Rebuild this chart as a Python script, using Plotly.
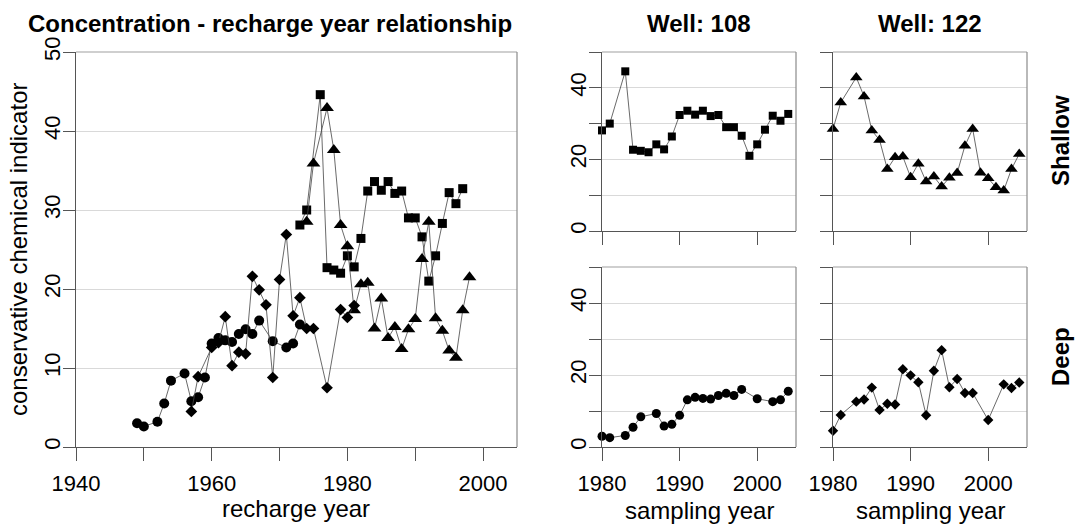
import plotly.graph_objects as go

# sampling years and concentrations
years_108_shallow = [1980, 1981, 1983, 1984, 1985, 1986, 1987, 1988, 1989, 1990, 1991, 1992,
                     1993, 1994, 1995, 1996, 1997, 1998, 1999, 2000, 2001, 2002, 2003, 2004]
conc_108_shallow = [28.1, 30.0, 44.6, 22.7, 22.4, 22.0, 24.2, 22.8, 26.4, 32.4, 33.6, 32.5,
                    33.6, 32.1, 32.4, 29.0, 29.0, 26.6, 21.0, 24.2, 28.3, 32.2, 30.8, 32.7]

years_122_shallow = [1980, 1981, 1983, 1984, 1985, 1986, 1987, 1988, 1989, 1990, 1991, 1992,
                     1993, 1994, 1995, 1996, 1997, 1998, 1999, 2000, 2001, 2002, 2003, 2004]
conc_122_shallow = [28.5, 35.9, 42.9, 37.6, 28.1, 25.4, 17.3, 20.6, 20.8, 15.0, 18.8, 13.8,
                    15.2, 12.4, 14.9, 16.2, 23.8, 28.5, 16.3, 14.7, 12.2, 11.3, 17.3, 21.5]

years_108_deep = [1980, 1981, 1983, 1984, 1985, 1987, 1988, 1989, 1990, 1991, 1992,
                  1993, 1994, 1995, 1996, 1997, 1998, 2000, 2002, 2003, 2004]
conc_108_deep = [3.0, 2.6, 3.2, 5.5, 8.4, 9.3, 5.8, 6.3, 8.8, 13.1, 13.8,
                 13.5, 13.3, 14.3, 14.9, 14.3, 16.0, 13.4, 12.6, 13.1, 15.5]

years_122_deep = [1980, 1981, 1983, 1984, 1985, 1986, 1987, 1988, 1989, 1990, 1991,
                  1992, 1993, 1994, 1995, 1996, 1997, 1998, 2000, 2002, 2003, 2004]
conc_122_deep = [4.5, 8.9, 12.6, 13.2, 16.5, 10.3, 12.0, 11.8, 21.6, 19.9, 18.0,
                 8.8, 21.2, 26.9, 16.6, 18.9, 15.0, 15.0, 7.5, 17.4, 16.4, 17.9]

# apparent groundwater age per well (years), recharge year = sampling year - age
age_108_shallow = 7
age_122_shallow = 6
age_108_deep = 31
age_122_deep = 23

W, H = 1078, 527
FONT = 'Liberation Sans, Arial, sans-serif'
AXIS_DARK = '#555555'
GRID = '#d9d9d9'
LINE = dict(color='#444444', width=0.8)


def px_x(p):
    return p / W


def px_y(p):
    return 1 - p / H


series = [
    ('108 shallow', years_108_shallow, conc_108_shallow, age_108_shallow, 'square', 9, 8),
    ('122 shallow', years_122_shallow, conc_122_shallow, age_122_shallow, 'triangle-up', 12, 11),
    ('108 deep', years_108_deep, conc_108_deep, age_108_deep, 'circle', 10, 9),
    ('122 deep', years_122_deep, conc_122_deep, age_122_deep, 'diamond', 9, 8),
]

fig = go.Figure()

# left panel: concentration vs recharge year
for name, yrs, conc, age, sym, size_big, size_small in series:
    fig.add_trace(go.Scatter(
        x=[y - age for y in yrs], y=conc, mode='lines+markers', name=name,
        line=LINE, marker=dict(symbol=sym, size=size_big, color='black', line=dict(width=0)),
        xaxis='x', yaxis='y', showlegend=False
    ))

# small panels: concentration vs sampling year
panel_axes = {'108 shallow': ('x2', 'y2'), '122 shallow': ('x3', 'y3'),
              '108 deep': ('x4', 'y4'), '122 deep': ('x5', 'y5')}
for name, yrs, conc, age, sym, size_big, size_small in series:
    xa, ya = panel_axes[name]
    fig.add_trace(go.Scatter(
        x=yrs, y=conc, mode='lines+markers', name=name,
        line=LINE, marker=dict(symbol=sym, size=size_small, color='black', line=dict(width=0)),
        xaxis=xa, yaxis=ya, showlegend=False, cliponaxis=False
    ))


def xaxis_cfg(domain, rng, vals, text, anchor):
    return dict(domain=domain, range=rng, anchor=anchor, tickvals=vals, ticktext=text,
                ticks='outside', ticklen=13, tickcolor=AXIS_DARK, showline=True,
                linecolor=AXIS_DARK, linewidth=1, showgrid=False, zeroline=False,
                automargin=False,
                tickfont=dict(size=22, color='black', family=FONT), ticklabelstandoff=4)


def yaxis_cfg(domain, vals, text, anchor):
    return dict(domain=domain, range=[0, 50], anchor=anchor, tickvals=vals, ticktext=text,
                ticks='outside', ticklen=12, tickcolor=AXIS_DARK, showline=True,
                linecolor=AXIS_DARK, linewidth=1, showgrid=True, gridcolor=GRID,
                zeroline=False, tickangle=-90, automargin=False,
                tickfont=dict(size=22, color='black', family=FONT), ticklabelstandoff=-6)


left_dom_x = [px_x(76), px_x(517)]
col1_x = [px_x(602), px_x(796)]
col2_x = [px_x(833), px_x(1027)]
full_y = [px_y(447), px_y(52)]
row1_y = [px_y(231), px_y(52)]
row2_y = [px_y(447), px_y(267)]

big_ticks = [1940, 1950, 1960, 1970, 1980, 1990, 2000]
big_text = ['1940', '', '1960', '', '1980', '', '2000']
small_ticks = [1980, 1990, 2000]
y_ticks = [0, 10, 20, 30, 40, 50]

fig.update_layout(
    width=W, height=H,
    margin=dict(l=0, r=0, t=0, b=0, pad=0),
    plot_bgcolor='white', paper_bgcolor='white',
    font=dict(family=FONT, color='black'),
    xaxis=xaxis_cfg(left_dom_x, [1940, 2005], big_ticks, big_text, 'y'),
    yaxis=yaxis_cfg(full_y, y_ticks, [str(v) for v in y_ticks], 'x'),
    xaxis2=xaxis_cfg(col1_x, [1980, 2005], small_ticks, ['', '', ''], 'y2'),
    yaxis2=yaxis_cfg(row1_y, y_ticks, ['0', '', '20', '', '40', ''], 'x2'),
    xaxis3=xaxis_cfg(col2_x, [1980, 2005], small_ticks, ['', '', ''], 'y3'),
    yaxis3=yaxis_cfg(row1_y, y_ticks, [''] * 6, 'x3'),
    xaxis4=xaxis_cfg(col1_x, [1980, 2005], small_ticks, ['1980', '1990', '2000'], 'y4'),
    yaxis4=yaxis_cfg(row2_y, y_ticks, ['0', '', '20', '', '40', ''], 'x4'),
    xaxis5=xaxis_cfg(col2_x, [1980, 2005], small_ticks, ['1980', '1990', '2000'], 'y5'),
    yaxis5=yaxis_cfg(row2_y, y_ticks, [''] * 6, 'x5'),
)

# top / right box edges in lighter gray
for xa, ya in [('x', 'y'), ('x2', 'y2'), ('x3', 'y3'), ('x4', 'y4'), ('x5', 'y5')]:
    fig.add_shape(type='line', xref=xa + ' domain', yref=ya + ' domain', x0=0, x1=1, y0=1, y1=1,
                  line=dict(color='#a0a0a0', width=1.2))
    fig.add_shape(type='line', xref=xa + ' domain', yref=ya + ' domain', x0=1, x1=1, y0=0, y1=1,
                  line=dict(color='#8a8a8a', width=1.2))

notes = [
    ('Concentration - recharge year relationship', 270, 24, 24, True, 0),
    ('Well: 108', 699, 24, 24, True, 0),
    ('Well: 122', 930, 24, 24, True, 0),
    ('Shallow', 1060, 141, 24, True, -90),
    ('Deep', 1060, 357, 24, True, -90),
    ('recharge year', 296, 508, 24, False, 0),
    ('sampling year', 699, 510, 24, False, 0),
    ('sampling year', 930, 510, 24, False, 0),
    ('conservative chemical indicator', 18, 250, 24, False, -90),
]
for text, x, y, size, bold, angle in notes:
    fig.add_annotation(
        text=f'<b>{text}</b>' if bold else text,
        x=px_x(x), y=px_y(y), xref='paper', yref='paper',
        xanchor='center', yanchor='middle', showarrow=False, textangle=angle,
        font=dict(size=size, family=FONT, color='black')
    )

fig.write_html("out.html", config={'displayModeBar': False},
               post_script="document.body.style.margin = '0';")
